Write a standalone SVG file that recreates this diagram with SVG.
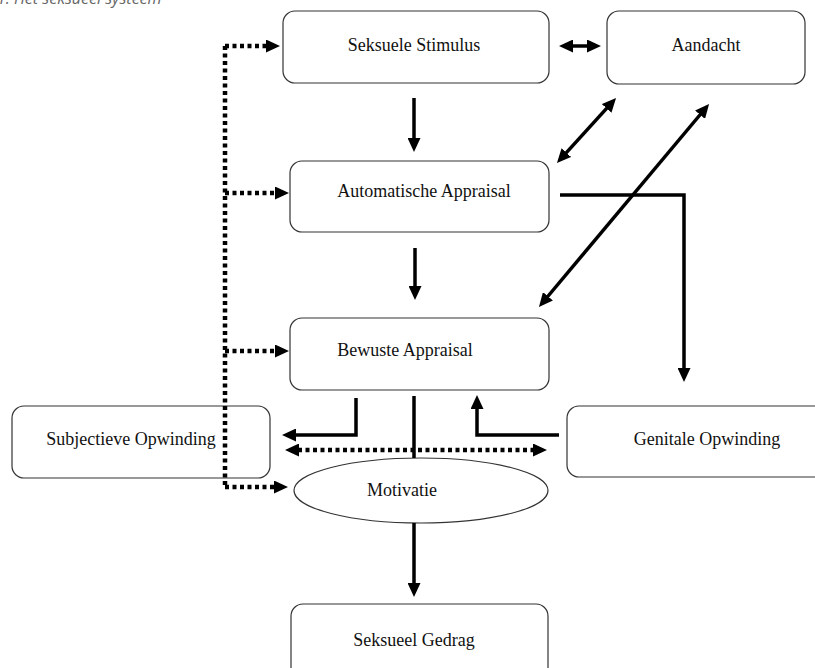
<svg xmlns="http://www.w3.org/2000/svg" width="815" height="668" viewBox="0 0 815 668">
<style>
.box{fill:#fff;stroke:#333;stroke-width:1.2}
.lbl{font-family:"Liberation Serif","Times New Roman",serif;font-size:18px;fill:#111}
.solid{fill:none;stroke:#000;stroke-width:3.5}
.dot{fill:none;stroke:#000;stroke-width:4.5;stroke-dasharray:4 3.5}
.cap{font-family:"Open Sans","Noto Sans",sans-serif;font-style:italic;font-size:16px;fill:#666}
</style>
<defs>
<marker id="ah" viewBox="0 0 14 13" markerWidth="14" markerHeight="13" markerUnits="userSpaceOnUse" refX="1" refY="6.5" orient="auto-start-reverse">
<path d="M0,0 L14,6.5 L0,13 z" fill="#000"/>
</marker>
</defs>
<rect width="815" height="668" fill="#fff"/>
<text class="cap" x="-3" y="4">1. Het seksueel systeem</text>
<g id="stimulus">
<rect class="box" x="283" y="11" width="266" height="72" rx="12"/>
<text class="lbl" x="414" y="51" text-anchor="middle">Seksuele Stimulus</text>
</g>
<g id="aandacht">
<rect class="box" x="607" y="11" width="198" height="73" rx="12"/>
<text class="lbl" x="706" y="51" text-anchor="middle">Aandacht</text>
</g>
<g id="automatische">
<rect class="box" x="290" y="161" width="259" height="71" rx="12"/>
<text class="lbl" x="424" y="197" text-anchor="middle">Automatische Appraisal</text>
</g>
<g id="bewuste">
<rect class="box" x="290" y="318" width="259" height="72" rx="12"/>
<text class="lbl" x="405" y="356" text-anchor="middle">Bewuste Appraisal</text>
</g>
<g id="subjectieve">
<rect class="box" x="12" y="406" width="258" height="72" rx="12"/>
<text class="lbl" x="131" y="445" text-anchor="middle">Subjectieve Opwinding</text>
</g>
<g id="genitale">
<rect class="box" x="567" y="406" width="270" height="71" rx="12"/>
<text class="lbl" x="707" y="445" text-anchor="middle">Genitale Opwinding</text>
</g>
<g id="motivatie">
<ellipse class="box" cx="421" cy="490.5" rx="127" ry="32.5"/>
<text class="lbl" x="402" y="496" text-anchor="middle">Motivatie</text>
</g>
<g id="gedrag">
<rect class="box" x="291" y="604" width="257" height="90" rx="12"/>
<text class="lbl" x="414" y="646" text-anchor="middle">Seksueel Gedrag</text>
</g>
<g id="connectors">
<line class="dot" x1="225" y1="46" x2="225" y2="487"/>
<line class="dot" x1="225" y1="46" x2="267" y2="46" marker-end="url(#ah)"/>
<line class="dot" x1="225" y1="193" x2="276" y2="193" marker-end="url(#ah)"/>
<line class="dot" x1="225" y1="351" x2="276" y2="351" marker-end="url(#ah)"/>
<line class="dot" x1="225" y1="487" x2="275" y2="487" marker-end="url(#ah)"/>
<line class="solid" x1="414" y1="98" x2="414" y2="139" marker-end="url(#ah)"/>
<line class="solid" x1="415" y1="248" x2="415" y2="287" marker-end="url(#ah)"/>
<line class="solid" x1="572" y1="46" x2="588" y2="46" marker-start="url(#ah)" marker-end="url(#ah)"/>
<line class="solid" x1="565.7" y1="153.4" x2="607.3" y2="107.6" marker-start="url(#ah)" marker-end="url(#ah)"/>
<line class="solid" x1="547.3" y1="297" x2="700.7" y2="114" marker-start="url(#ah)" marker-end="url(#ah)"/>
<polyline class="solid" points="560,195 684,195 684,369" marker-end="url(#ah)"/>
<polyline class="solid" points="356,398 356,435 295,435" marker-end="url(#ah)"/>
<polyline class="solid" points="559,435 477,435 477,408" marker-end="url(#ah)"/>
<line class="solid" x1="414" y1="396" x2="414" y2="458"/>
<line class="dot" x1="298" y1="450" x2="534" y2="450" marker-start="url(#ah)" marker-end="url(#ah)"/>
<line class="solid" x1="414" y1="523" x2="414" y2="584" marker-end="url(#ah)"/>
</g>
</svg>
